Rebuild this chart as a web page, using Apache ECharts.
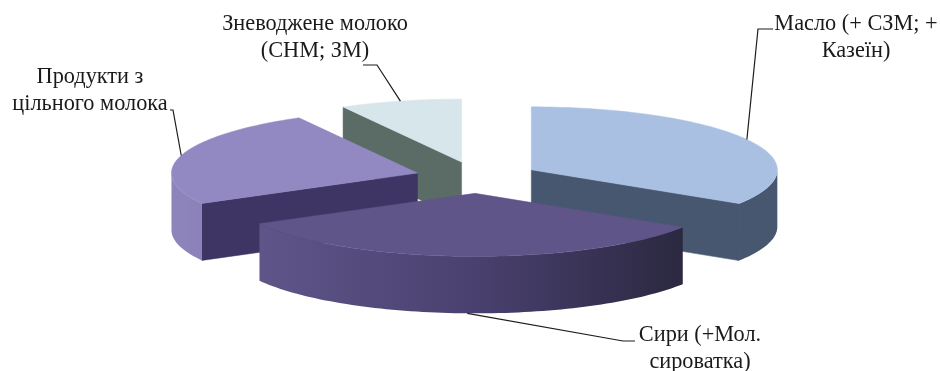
<!DOCTYPE html>
<html>
<head>
<meta charset="utf-8">
<style>html,body{margin:0;padding:0;background:#fff}#chart{width:940px;height:371px}</style>
<script src="https://cdn.jsdelivr.net/npm/echarts@6/dist/echarts.min.js"></script>
</head>
<body>
<div id="chart"></div>
<script>
// Dairy output shares, clockwise from twelve o'clock
const categories = ['Масло (+ СЗМ; +\nКазеїн)', 'Сири (+Мол.\nсироватка)', 'Продукти з\nцільного молока', 'Зневоджене молоко\n(СНМ; ЗМ)'];
const shares = [34, 33, 25, 8];

// Back-to-front painting sequence of the exploded slices
const paintRank = [1, 3, 2, 0];

const topColors = ['#a9c0e3', '#5f5589', '#9389c2', '#d6e6eb'];
const cutColors = ['#46576f', '#2d2a42', '#3e3564', '#5b6c67'];
const rimColors = [
  ['#46576f', '#46576f', '#46576f'],
  ['#5f5589', '#4a4170', '#2b2840'],
  ['#8e84bc', '#8e84bc', '#8b81b8'],
  ['#5b6c67', '#5b6c67', '#5b6c67']
];

// Pie projection: squashed circle seen from above
const pie = { cx: 477, cy: 177.5, rx: 246, ry: 63, depth: 57, explode: 0.252 };

// Leader line elbows and text anchors, one per category
const leaderElbows = [[[758, 29], [773, 29]], [[623, 341], [635, 341]], [[173, 110], [170, 110]], [[377, 65], [363, 65]]];
const textBoxes = [[856, 37.5], [700, 348.5], [90, 91], [315, 37.5]];

const total = shares.reduce((s, v) => s + v, 0);
const rad = d => d * Math.PI / 180;

// Clockwise sweep of slice i, in degrees counter-clockwise from east
function sweep(i) {
  const before = shares.slice(0, i).reduce((s, v) => s + v, 0);
  return [90 - before / total * 360, 90 - (before + shares[i]) / total * 360];
}

function project(apex, deg, drop) {
  return [apex[0] + pie.rx * Math.cos(rad(deg)), apex[1] - pie.ry * Math.sin(rad(deg)) + (drop || 0)];
}

function arc(apex, from, to, drop) {
  const pts = [];
  const n = Math.max(2, Math.ceil(Math.abs(from - to) / 1.5));
  for (let k = 0; k <= n; k++) pts.push(project(apex, from + (to - from) * k / n, drop));
  return pts;
}

function renderSlice(params, api) {
  const i = params.dataIndex;
  const [a0, a1] = sweep(i);
  const mid = (a0 + a1) / 2;
  const apex = [
    pie.cx + pie.explode * pie.rx * Math.cos(rad(mid)),
    pie.cy - pie.explode * pie.ry * Math.sin(rad(mid))
  ];
  const base = paintRank[i] * 10;
  const children = [];
  const poly = (points, fill, z) => children.push({
    type: 'polygon', z2: base + z, shape: { points },
    style: { fill, stroke: typeof fill === 'string' ? fill : null, lineWidth: 0.5 }
  });

  // Cut faces turned towards the viewer
  [[a0, Math.cos(rad(a0)) < -1e-6], [a1, Math.cos(rad(a1)) > 1e-6]].forEach(([deg, visible]) => {
    if (!visible) return;
    const e = project(apex, deg);
    poly([apex, e, [e[0], e[1] + pie.depth], [apex[0], apex[1] + pie.depth]], cutColors[i], 0);
  });

  // Rim: only the front half of the ellipse shows
  const hi = Math.min(a0, 0), lo = Math.max(a1, -180);
  if (lo < hi) {
    const edge = arc(apex, hi, lo, 0);
    const under = arc(apex, lo, hi, pie.depth);
    poly(edge.concat(under), new echarts.graphic.LinearGradient(0, 0, 1, 0, [
      { offset: 0, color: rimColors[i][0] },
      { offset: 0.5, color: rimColors[i][1] },
      { offset: 1, color: rimColors[i][2] }
    ]), 1);
  }

  // Top face
  poly([apex].concat(arc(apex, a0, a1, 0)), topColors[i], 2);

  // Leader line from the rim midpoint, then the label
  const front = Math.sin(rad(mid)) < 0;
  const anchor = project(apex, mid, front ? pie.depth : 0);
  children.push({
    type: 'polyline', z2: 100,
    shape: { points: [anchor].concat(leaderElbows[i]) },
    style: { fill: null, stroke: '#1c1c1c', lineWidth: 1.2 }
  });
  children.push({
    type: 'text', z2: 101, x: textBoxes[i][0], y: textBoxes[i][1],
    style: {
      text: categories[i],
      fill: '#1a1a1a', align: 'center', verticalAlign: 'middle',
      font: '22.3px "Liberation Serif", serif', lineHeight: 27
    }
  });
  return { type: 'group', children };
}

const chart = echarts.init(document.getElementById('chart'), null, { renderer: 'canvas' });
chart.setOption({
  animation: false,
  backgroundColor: '#fff',
  series: [{
    type: 'custom',
    coordinateSystem: 'none',
    renderItem: renderSlice,
    data: shares.map((v, i) => [i, v])
  }]
});
</script>
</body>
</html>
